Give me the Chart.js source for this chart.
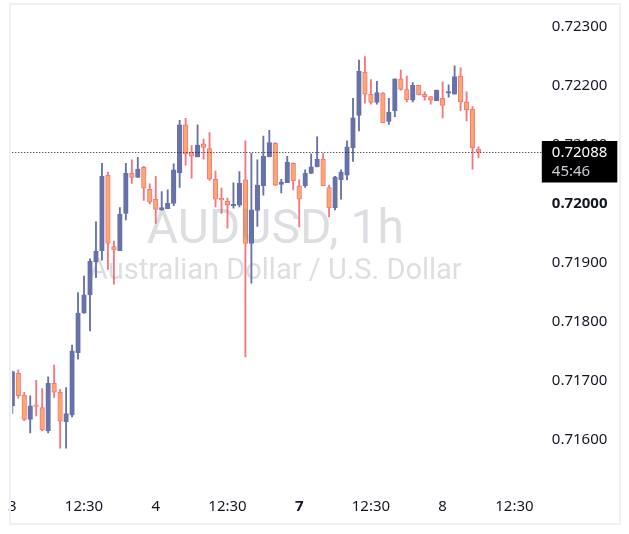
<!DOCTYPE html>
<html>
<head>
<meta charset="utf-8">
<script src="https://cdn.jsdelivr.net/npm/chart.js@4.4.1/dist/chart.umd.min.js"></script>
<style>
  html, body { margin: 0; padding: 0; background: #fff; }
  canvas { display: block; }
</style>
</head>
<body>
<canvas id="chart" width="629" height="534"></canvas>
<script>
// AUDUSD 1h candles
const opens  = [0.71658,0.71713,0.71676,0.71635,0.71658,0.71655,0.71616,0.71696,0.71681,0.71631,
                0.71642,0.71748,0.71815,0.71846,0.71902,0.71921,0.72049,0.71928,0.71921,0.71984,
                0.72052,0.72045,0.72062,0.72025,0.72008,0.71990,0.71992,0.72001,0.72053,0.72134,
                0.72088,0.72080,0.72102,0.72094,0.72042,0.72008,0.72005,0.71997,0.71998,0.72041,
                0.71933,0.71989,0.72031,0.72080,0.72103,0.72033,0.72036,0.72069,0.72031,0.72031,
                0.72052,0.72063,0.72076,0.72028,0.71994,0.72041,0.72049,0.72095,0.72150,0.72223,
                0.72186,0.72172,0.72188,0.72140,0.72158,0.72212,0.72194,0.72176,0.72201,0.72186,
                0.72182,0.72175,0.72179,0.72188,0.72186,0.72217,0.72173,0.72161,0.72093];
const highs  = [0.71717,0.71719,0.71681,0.71675,0.71701,0.71687,0.71707,0.71727,0.71686,0.71689,
                0.71761,0.71850,0.71878,0.71907,0.71970,0.72069,0.72054,0.71937,0.71994,0.72069,
                0.72075,0.72079,0.72064,0.72034,0.72047,0.72021,0.72024,0.72068,0.72142,0.72145,
                0.72099,0.72134,0.72110,0.72121,0.72056,0.72027,0.72010,0.72036,0.72055,0.72107,
                0.72086,0.72075,0.72115,0.72125,0.72104,0.72042,0.72081,0.72070,0.72041,0.72058,
                0.72085,0.72114,0.72086,0.72032,0.72047,0.72058,0.72107,0.72179,0.72244,0.72250,
                0.72211,0.72208,0.72189,0.72179,0.72212,0.72227,0.72217,0.72206,0.72201,0.72190,
                0.72182,0.72193,0.72207,0.72202,0.72234,0.72231,0.72190,0.72165,0.72097];
const lows   = [0.71645,0.71671,0.71633,0.71612,0.71641,0.71616,0.71612,0.71672,0.71586,0.71586,
                0.71639,0.71737,0.71815,0.71785,0.71875,0.71905,0.71889,0.71864,0.71921,0.71973,
                0.72035,0.72045,0.72006,0.72000,0.71967,0.71989,0.71992,0.71997,0.72028,0.72066,
                0.72044,0.72080,0.72076,0.72040,0.71995,0.71984,0.71959,0.71993,0.71995,0.71741,
                0.71866,0.71962,0.72015,0.72080,0.72031,0.72019,0.72036,0.72024,0.71961,0.72028,
                0.72052,0.72063,0.72031,0.71978,0.71990,0.72008,0.72041,0.72072,0.72124,0.72171,
                0.72169,0.72169,0.72138,0.72135,0.72148,0.72193,0.72173,0.72173,0.72185,0.72176,
                0.72169,0.72175,0.72146,0.72181,0.72186,0.72158,0.72141,0.72059,0.72078];
const closes = [0.71716,0.71675,0.71635,0.71658,0.71657,0.71617,0.71696,0.71681,0.71632,0.71645,
                0.71751,0.71815,0.71846,0.71903,0.71920,0.72047,0.71933,0.71922,0.71983,0.72052,
                0.72045,0.72059,0.72027,0.72003,0.71991,0.71994,0.72001,0.72058,0.72134,0.72085,
                0.72081,0.72100,0.72096,0.72042,0.72008,0.72007,0.71998,0.71999,0.72035,0.71933,
                0.71990,0.72032,0.72081,0.72104,0.72032,0.72037,0.72071,0.72039,0.72008,0.72052,
                0.72063,0.72076,0.72031,0.71994,0.72046,0.72054,0.72097,0.72146,0.72225,0.72186,
                0.72172,0.72189,0.72138,0.72156,0.72212,0.72194,0.72177,0.72201,0.72185,0.72182,
                0.72176,0.72193,0.72167,0.72190,0.72216,0.72173,0.72160,0.72095,0.72088];

const priceTicks = [0.716, 0.717, 0.718, 0.719, 0.720, 0.721, 0.722, 0.723];
const timeTickIdx = [0, 12, 24, 36, 48, 60, 72, 84];
const timeTickText = ['3', '12:30', '4', '12:30', '7', '12:30', '8', '12:30'];
const lastPrice = 0.72088;
const countdown = '45:46';

const FONT = '"Noto Sans", "Open Sans", sans-serif';
const BULL = '#6672a8';
const BEAR_FILL = '#fca86a';
const BEAR_LINE = '#f5767f';

const isBull = i => closes[i] >= opens[i];

const wickData = lows.map((l, i) => ({ x: i, y: [l, highs[i]] }));
const bodyData = opens.map((o, i) => ({ x: i, y: [o, closes[i]] }));

// frame, watermark and last price label
const decor = {
    id: 'decor',
    beforeDraw(chart) {
        const ctx = chart.ctx;
        ctx.save();
        ctx.fillStyle = '#ffffff';
        ctx.fillRect(0, 0, chart.width, chart.height);
        ctx.restore();
    },
    afterDatasetsDraw(chart) {
        const ctx = chart.ctx;
        const a = chart.chartArea;
        const cx = (a.left + a.right) / 2;
        const cy = (a.top + a.bottom) / 2;
        ctx.save();
        ctx.fillStyle = 'rgba(120, 123, 134, 0.25)';
        ctx.textAlign = 'center';
        ctx.textBaseline = 'alphabetic';
        ctx.font = '48px Roboto';
        ctx.fillText('AUDUSD, 1h', cx, cy - 6.5);
        ctx.font = '29px Roboto';
        ctx.fillText('Australian Dollar / U.S. Dollar', cx, cy + 29);
        ctx.restore();
    },
    afterDraw(chart) {
        const ctx = chart.ctx;
        const a = chart.chartArea;
        const py = Math.round(chart.scales.y.getPixelForValue(lastPrice)) + 0.5;
        const boxX = a.right + 3.5;
        ctx.save();
        // dotted last price line
        ctx.strokeStyle = '#131722';
        ctx.lineWidth = 1;
        ctx.setLineDash([1, 2]);
        ctx.beginPath();
        ctx.moveTo(a.left, py);
        ctx.lineTo(boxX, py);
        ctx.stroke();
        ctx.setLineDash([]);
        // price box
        ctx.fillStyle = '#000000';
        ctx.fillRect(boxX, py - 11.5, 75.5, 41.5);
        ctx.textAlign = 'left';
        ctx.textBaseline = 'middle';
        ctx.font = '15px ' + FONT;
        ctx.fillStyle = '#ffffff';
        ctx.fillText(lastPrice.toFixed(5), a.right + 13.5, py);
        ctx.fillStyle = '#c9cbd2';
        ctx.fillText(countdown, a.right + 13.5, py + 19.5);
        // frame
        ctx.strokeStyle = '#f0f0f0';
        ctx.lineWidth = 2;
        ctx.strokeRect(10, 4, 610, 520);
        ctx.restore();
    }
};

new Chart(document.getElementById('chart'), {
    type: 'bar',
    data: {
        datasets: [{
            label: 'body',
            data: bodyData,
            order: 0,
            grouped: false,
            barThickness: 4.6,
            minBarLength: 1.5,
            borderWidth: 1,
            borderSkipped: false,
            backgroundColor: bodyData.map((d, i) => isBull(i) ? BULL : BEAR_FILL),
            borderColor: bodyData.map((d, i) => isBull(i) ? BULL : BEAR_LINE),
            clip: 0
        }, {
            label: 'wick',
            data: wickData,
            order: 1,
            grouped: false,
            barThickness: 1.2,
            borderWidth: 0,
            backgroundColor: wickData.map((d, i) => isBull(i) ? BULL : BEAR_LINE),
            clip: 0
        }]
    },
    options: {
        responsive: false,
        animation: false,
        events: [],
        layout: { padding: { left: 10.3, top: 5, right: 10, bottom: 10 } },
        plugins: {
            legend: { display: false },
            tooltip: { enabled: false }
        },
        scales: {
            x: {
                type: 'linear',
                min: 0,
                max: 88,
                offset: false,
                grid: { display: false, drawTicks: false },
                border: { display: false },
                afterFit(s) { s.height = 34; },
                afterBuildTicks(s) { s.ticks = timeTickIdx.map(v => ({ value: v })); },
                ticks: {
                    autoSkip: false,
                    maxRotation: 0,
                    padding: 8,
                    color: '#131722',
                    font: c => ({ family: FONT, size: 15, weight: timeTickText[c.index] === '7' ? 'bold' : 'normal' }),
                    callback: (v, i) => timeTickText[i]
                }
            },
            y: {
                position: 'right',
                min: 0.715153,
                max: 0.723305,
                grid: { display: false, drawTicks: true, tickLength: 13.5 },
                border: { display: false },
                afterFit(s) { s.width = 80.7; },
                afterBuildTicks(s) { s.ticks = priceTicks.map(v => ({ value: v })); },
                ticks: {
                    padding: 0,
                    color: '#131722',
                    font: c => ({ family: FONT, size: 15, weight: c.tick && Math.abs(c.tick.value - 0.72) < 1e-9 ? 'bold' : 'normal' }),
                    callback: v => v.toFixed(5)
                }
            }
        }
    },
    plugins: [decor]
});
</script>
</body>
</html>
